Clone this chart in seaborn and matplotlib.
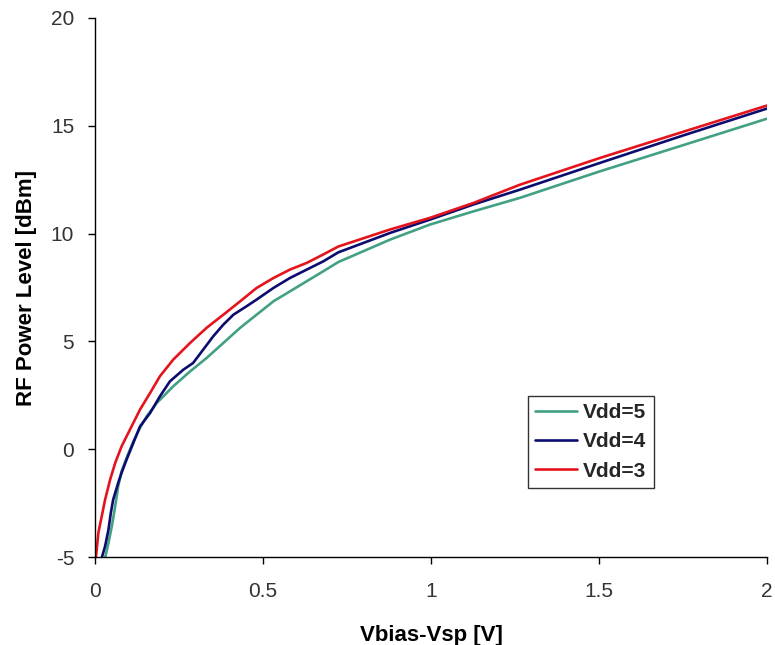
import matplotlib
matplotlib.use("Agg")
import matplotlib.pyplot as plt
import seaborn as sns
import pandas as pd

# Vdd=5
x5 = [0.030, 0.040, 0.050, 0.060, 0.069, 0.079, 0.094, 0.114, 0.134, 0.154, 0.184, 0.233,
      0.283, 0.332, 0.382, 0.432, 0.481, 0.531, 0.580, 0.630, 0.679, 0.724, 0.878,
      0.997, 1.126, 1.265, 1.503, 1.75, 2.00]
y5 = [-5.04, -4.35, -3.58, -2.65, -1.72, -1.02, -0.40, 0.37, 0.99, 1.53, 2.15, 2.92,
      3.61, 4.23, 4.93, 5.63, 6.24, 6.86, 7.32, 7.79, 8.25, 8.68, 9.72,
      10.42, 11.03, 11.66, 12.89, 14.1, 15.33]
# Vdd=4
x4 = [0.020, 0.030, 0.040, 0.047, 0.054, 0.069, 0.079, 0.094, 0.114, 0.134, 0.164, 0.193,
      0.223, 0.263, 0.292, 0.322, 0.352, 0.382, 0.412, 0.451, 0.481, 0.531, 0.580, 0.630,
      0.679, 0.724, 0.878, 0.997, 1.126, 1.265, 1.503, 1.75, 2.00]
y4 = [-5.04, -4.50, -3.73, -2.96, -2.34, -1.56, -1.10, -0.48, 0.29, 1.06, 1.68, 2.45,
      3.15, 3.69, 4.00, 4.62, 5.24, 5.78, 6.24, 6.63, 6.94, 7.48, 7.94, 8.33,
      8.71, 9.13, 10.03, 10.65, 11.35, 12.04, 13.28, 14.55, 15.80]
# Vdd=3
x3 = [0.003, 0.010, 0.020, 0.030, 0.045, 0.060, 0.079, 0.104, 0.134, 0.164, 0.193, 0.233,
      0.283, 0.332, 0.382, 0.432, 0.481, 0.531, 0.580, 0.630, 0.679, 0.724, 0.878,
      0.997, 1.126, 1.265, 1.503, 1.75, 2.00]
y3 = [-4.97, -3.88, -3.11, -2.34, -1.41, -0.64, 0.13, 0.91, 1.84, 2.61, 3.38, 4.16,
      4.93, 5.63, 6.24, 6.86, 7.48, 7.94, 8.33, 8.64, 9.03, 9.40, 10.19,
      10.73, 11.42, 12.27, 13.51, 14.72, 15.94]

labels = ["Vdd=5", "Vdd=4", "Vdd=3"]
colors = ["#42a084", "#0c0c70", "#e5141c"]

df = pd.concat([
    pd.DataFrame({"x": x5, "y": y5, "series": labels[0]}),
    pd.DataFrame({"x": x4, "y": y4, "series": labels[1]}),
    pd.DataFrame({"x": x3, "y": y3, "series": labels[2]}),
], ignore_index=True)

sns.set_style("ticks")
plt.rcParams["font.family"] = ["Liberation Sans", "DejaVu Sans"]
plt.rcParams["axes.unicode_minus"] = False

fig = plt.figure(figsize=(7.75, 6.45), dpi=100)
ax = fig.add_axes([0.1226, 0.1364, 0.8671, 0.8357])

sns.lineplot(data=df, x="x", y="y", hue="series", hue_order=labels,
             palette=colors, linewidth=1.9, sort=False, estimator=None, ax=ax)

ax.set_xlim(0, 2)
ax.set_ylim(-5, 20)
ax.set_xticks([0, 0.5, 1, 1.5, 2])
ax.set_xticklabels(["0", "0.5", "1", "1.5", "2"])
ax.set_yticks([-5, 0, 5, 10, 15, 20])
ax.tick_params(axis="both", labelsize=15, colors="black", labelcolor="#333333",
               length=5, width=1, direction="out")
ax.tick_params(axis="x", pad=13)
ax.tick_params(axis="y", pad=10)
for s in ["top", "right"]:
    ax.spines[s].set_visible(False)
for s in ["left", "bottom"]:
    ax.spines[s].set_color("black")
    ax.spines[s].set_linewidth(1)

ax.set_xlabel("Vbias-Vsp [V]", fontsize=16, fontweight="bold", labelpad=17, color="black")
ax.set_ylabel("RF Power Level [dBm]", fontsize=16, fontweight="bold", labelpad=10, color="black")

leg = ax.legend(loc="lower left", bbox_to_anchor=(0.644, 0.128), borderaxespad=0,
                frameon=True, fancybox=False, edgecolor="black",
                prop={"weight": "bold", "size": 15},
                handlelength=2.0, handletextpad=0.3, borderpad=0.35, labelspacing=0.5)
leg.get_frame().set_linewidth(1)

fig.savefig("out.png", dpi=100)
